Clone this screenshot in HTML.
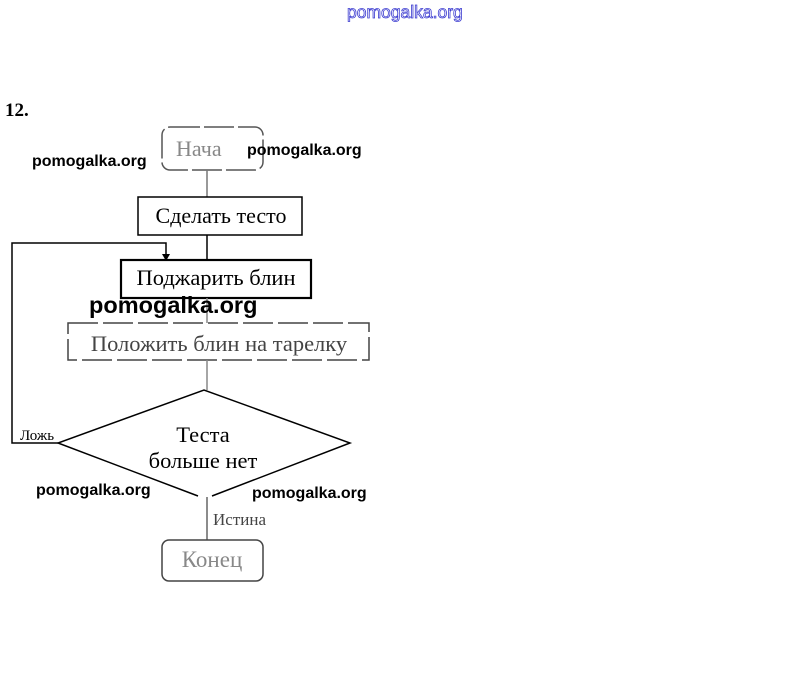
<!DOCTYPE html>
<html><head><meta charset="utf-8"><style>
html,body{margin:0;padding:0;background:#fff;}
svg{display:block;}
</style></head><body>
<svg width="809" height="675" viewBox="0 0 809 675" xmlns="http://www.w3.org/2000/svg">
<rect width="809" height="675" fill="#fff"/>
<text x="347" y="18" font-family="Liberation Sans, sans-serif" font-size="17.5" fill="#fff" stroke="#3b3bd0" stroke-width="0.8">pomogalka.org</text>
<text x="5" y="116" font-family="Liberation Serif, serif" font-size="19" font-weight="bold" fill="#000">12.</text>

<g fill="none" stroke="#000" stroke-width="1.5">
<rect x="162" y="127" width="101" height="43" rx="8" stroke="#555" stroke-dasharray="30 4"/>
<line x1="207" y1="170" x2="207" y2="197" stroke="#777"/>
<rect x="138" y="197" width="164" height="38"/>
<line x1="207" y1="235" x2="207" y2="260"/>
<polyline points="58,443 12,443 12,243 166,243 166,254"/>
<rect x="121" y="260" width="190" height="38" stroke-width="2.2"/>
<line x1="207" y1="298" x2="207" y2="323" stroke="#888"/>
<rect x="68" y="323" width="301" height="37" stroke="#444" stroke-dasharray="30 5"/>
<line x1="207" y1="360" x2="207" y2="390" stroke="#888"/>
<polyline points="198,496 58,443 204,390 350,443 212,496"/>
<line x1="207" y1="497" x2="207" y2="540" stroke="#666"/>
<rect x="162" y="540" width="101" height="41" rx="7" stroke="#444"/>
</g>
<polygon points="162,254 170,254 166,261" fill="#000"/>

<g font-family="Liberation Serif, serif" fill="#000">
<text x="176" y="156" font-size="22" fill="#888">Нача</text>
<text x="221" y="223" font-size="22" text-anchor="middle">Сделать тесто</text>
<text x="216" y="285" font-size="22.5" text-anchor="middle">Поджарить блин</text>
<text x="219" y="351" font-size="22.5" text-anchor="middle" fill="#444">Положить блин на тарелку</text>
<text x="203" y="442" font-size="22.5" text-anchor="middle">Теста</text>
<text x="203" y="468" font-size="22.5" text-anchor="middle">больше нет</text>
<text x="20" y="440" font-size="15">Ложь</text>
<text x="213" y="525" font-size="17" fill="#444">Истина</text>
<text x="212" y="567" font-size="23" text-anchor="middle" fill="#888">Конец</text>
</g>

<g font-family="Liberation Sans, sans-serif" fill="#000" font-weight="bold">
<text x="247" y="155" font-size="16">pomogalka.org</text>
<text x="32" y="166" font-size="16">pomogalka.org</text>
<text x="89" y="313" font-size="23.5">pomogalka.org</text>
<text x="36" y="495" font-size="16">pomogalka.org</text>
<text x="252" y="498" font-size="16">pomogalka.org</text>
</g>
</svg>
</body></html>
